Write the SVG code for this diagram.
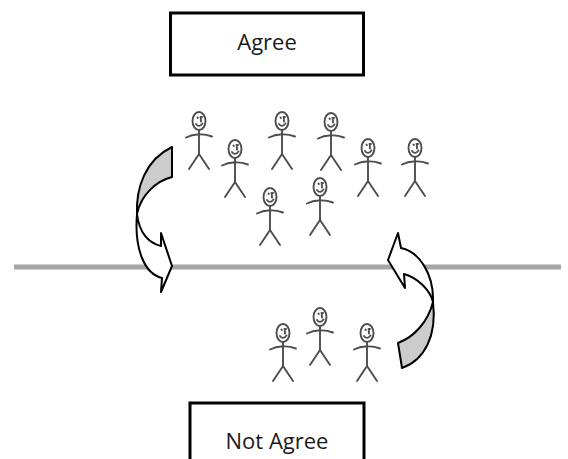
<svg xmlns="http://www.w3.org/2000/svg" xmlns:xlink="http://www.w3.org/1999/xlink" width="568" height="459" viewBox="0 0 568 459">
  <style>
    .box { fill: #ffffff; stroke: #000000; stroke-width: 3; }
    .label { font-family: "Open Sans", "Liberation Sans", sans-serif; font-size: 22px; fill: #1a1a1a; text-anchor: middle; }
    .fig { fill: none; stroke: #4d4d4d; stroke-width: 1.9; stroke-linecap: round; stroke-linejoin: round; }
    .divider { stroke: #a6a6a6; stroke-width: 5; }
    .arrow-front { fill: #ffffff; stroke: #000000; stroke-width: 2; stroke-linejoin: round; }
    .arrow-back { fill: #cccccc; stroke: #000000; stroke-width: 2; stroke-linejoin: round; }
  </style>
  <defs>
    <!-- stick figure, origin at the centre of the head -->
    <g id="person" class="fig">
      <ellipse cx="0" cy="0" rx="6.5" ry="9"/>
      <path d="M-1.5,-3.5 L-1.2,-3 M1.5,-4 L3,-4 M1.8,-2.5 L2,0.5 M-3,3 Q0,7 3.5,2.5"/>
      <path d="M0,9 L0,33"/>
      <path d="M-13,16.5 Q-6,13 0,13.5 Q6,13 13,15.5"/>
      <path d="M-10,48 L0,33 L10,48"/>
    </g>
  </defs>

  <rect width="568" height="459" fill="#ffffff"/>

  <!-- dividing line -->
  <line class="divider" x1="14" y1="267" x2="561" y2="267"/>

  <g id="agree">
    <rect class="box" x="170.5" y="13" width="193" height="62"/>
    <text class="label" x="267" y="50">Agree</text>
  </g>

  <g id="not-agree">
    <rect class="box" x="190" y="403" width="174" height="70"/>
    <text class="label" x="277" y="449">Not Agree</text>
  </g>

  <!-- people above the line -->
  <g id="people-agree">
    <use xlink:href="#person" x="199" y="121"/>
    <use xlink:href="#person" x="235" y="149"/>
    <use xlink:href="#person" x="282" y="121"/>
    <use xlink:href="#person" x="331" y="122"/>
    <use xlink:href="#person" x="368" y="148"/>
    <use xlink:href="#person" x="415" y="148"/>
    <use xlink:href="#person" x="270" y="197"/>
    <use xlink:href="#person" x="320" y="187"/>
  </g>

  <!-- people below the line -->
  <g id="people-not-agree">
    <use xlink:href="#person" x="283" y="333"/>
    <use xlink:href="#person" x="320" y="317"/>
    <use xlink:href="#person" x="367" y="333"/>
  </g>

  <g id="connectors">
    <!-- left curved arrow: from Agree down across the line -->
    <g id="arrow-down">
      <path class="arrow-back" d="M172,147 L172,177 C156,181 141,195 137,214 C136,188 145,160 172,147 Z"/>
      <path class="arrow-front" d="M137,214 C139,232 148,243 161,246 L161,233 L172,266 L161,292 L162,278 C145,274 134,250 137,214 Z"/>
    </g>
    <!-- right curved arrow: from Not Agree up across the line -->
    <g id="arrow-up">
      <path class="arrow-back" d="M398,343 L402,368 C425,360 437,335 433,302 C428,322 414,337 398,343 Z"/>
      <path class="arrow-front" d="M433,302 C434,275 420,252 401,248 L398,233 L388,260 L405,288 L404,274 C418,278 430,290 433,302 Z"/>
    </g>
  </g>
</svg>
